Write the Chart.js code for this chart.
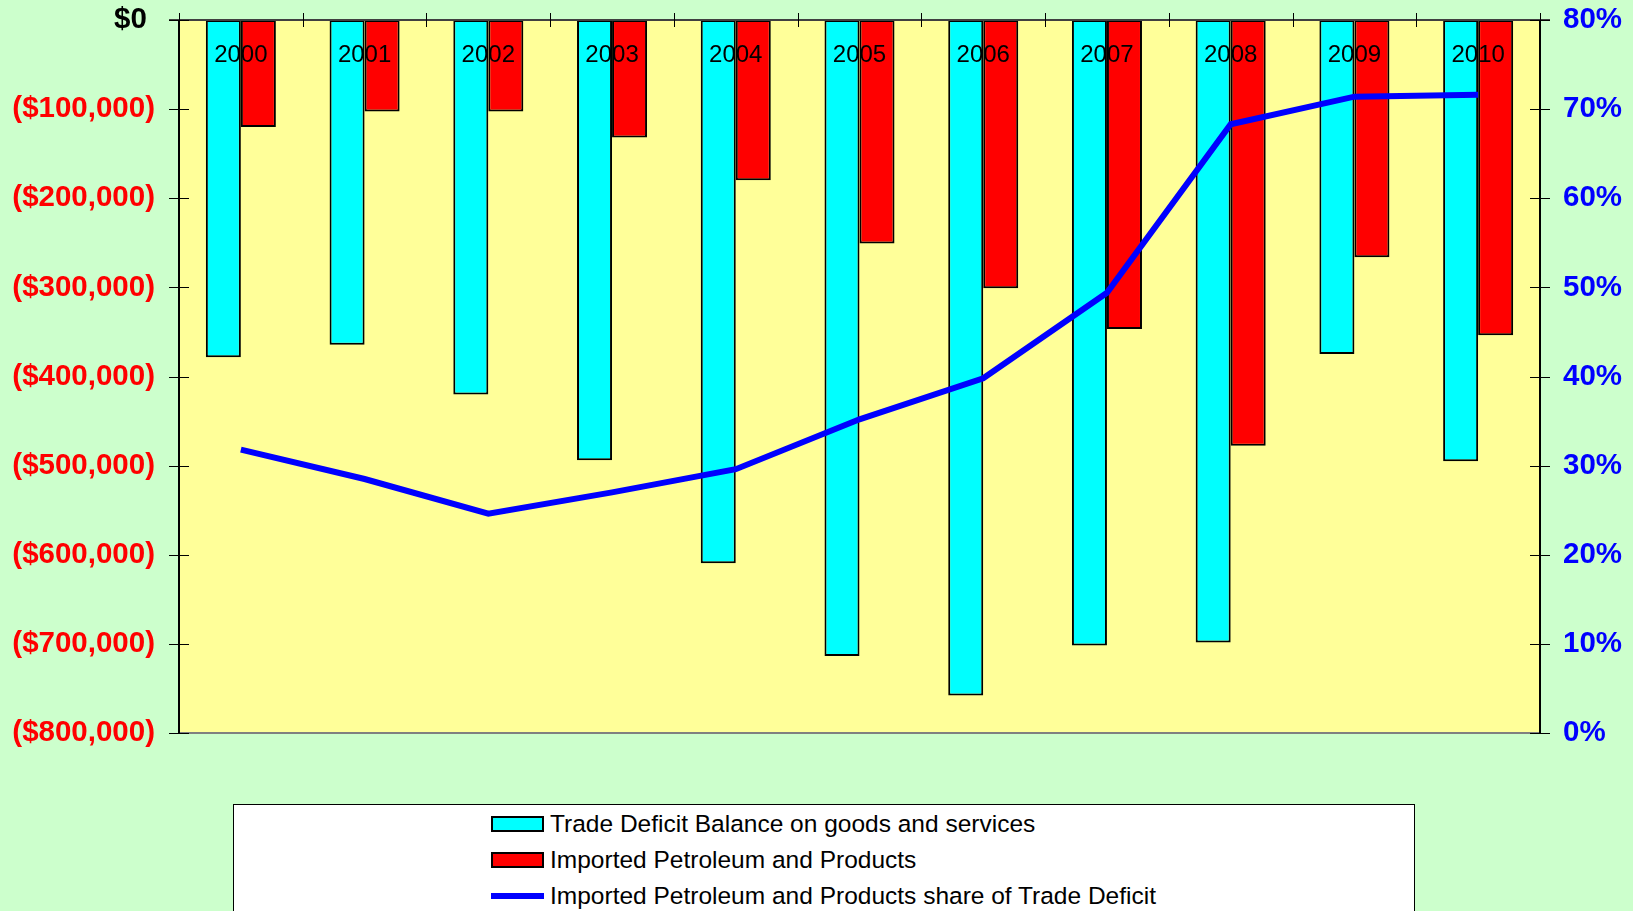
<!DOCTYPE html>
<html>
<head>
<meta charset="utf-8">
<script src="https://cdn.jsdelivr.net/npm/chart.js@4/dist/chart.umd.min.js"></script>
<style>
  html, body { margin: 0; padding: 0; background: #CCFFCC; overflow: hidden; }
  #wrap { position: relative; width: 1633px; height: 911px; }
  #c { position: absolute; left: 0; top: 0; }
  #legend { position: absolute; left: 233px; top: 804px; width: 1182px; height: 140px;
            background: #FFFFFF; border: 1px solid #000; box-sizing: border-box; }
  .item { position: absolute; left: 257px; height: 30px; display: flex; align-items: center;
          font-family: "Liberation Sans", Arial, sans-serif; font-size: 24.5px; color: #000; white-space: nowrap; }
  .sw { width: 53px; height: 16px; box-sizing: border-box; border: 2px solid #000; margin-right: 6px; }
  .swl { width: 53px; height: 6px; margin-right: 6px; }
</style>
</head>
<body>
<div id="wrap">
  <canvas id="c" width="1633" height="911"></canvas>
  <div id="legend"></div>
</div>
<script>
const years = ['2000','2001','2002','2003','2004','2005','2006','2007','2008','2009','2010'];
const tradeDeficit = [-378300, -364300, -420300, -494000, -609600, -713600, -758000, -701900, -698400, -374700, -495000];
const petroleum = [-120100, -102600, -102600, -131800, -179700, -250900, -301100, -346700, -477600, -266100, -353700];
const petroShare = [31.8, 28.5, 24.6, 27.0, 29.6, 35.2, 39.8, 49.4, 68.3, 71.4, 71.6];
const seriesNames = ['Trade Deficit Balance on goods and services', 'Imported Petroleum and Products', 'Imported Petroleum and Products share of Trade Deficit'];

const FONT = '"Liberation Sans", Arial, sans-serif';

const framePlugin = {
  id: 'frame',
  beforeDraw(chart) {
    const {ctx, chartArea: a} = chart;
    ctx.save();
    ctx.fillStyle = '#CCFFCC';
    ctx.fillRect(0, 0, chart.width, chart.height);
    ctx.fillStyle = '#FFFF99';
    ctx.fillRect(a.left, a.top, a.right - a.left, a.bottom - a.top);
    ctx.restore();
  },
  afterDatasetsDraw(chart) {
    const {ctx, chartArea: a, scales} = chart;
    ctx.save();
    ctx.lineWidth = 2;
    ctx.strokeStyle = '#808080';
    ctx.beginPath(); ctx.moveTo(a.left, a.bottom); ctx.lineTo(a.right, a.bottom); ctx.stroke();
    ctx.strokeStyle = '#404040';
    ctx.beginPath(); ctx.moveTo(a.left - 10, a.top); ctx.lineTo(a.right + 10, a.top); ctx.stroke();
    ctx.strokeStyle = '#000';
    ctx.beginPath(); ctx.moveTo(a.left, a.top); ctx.lineTo(a.left, a.bottom); ctx.stroke();
    ctx.beginPath(); ctx.moveTo(a.right, a.top); ctx.lineTo(a.right, a.bottom); ctx.stroke();
    ctx.lineWidth = 1;
    ctx.strokeStyle = '#000';
    const x = scales.x;
    const n = years.length;
    for (let i = 0; i <= n; i++) {
      const px = Math.round(x.getPixelForValue(i - 0.5)) + 0.5;
      ctx.beginPath(); ctx.moveTo(px, a.top - 7); ctx.lineTo(px, a.top + 7); ctx.stroke();
    }
    scales.y.ticks.forEach(t => {
      const py = Math.round(scales.y.getPixelForValue(t.value)) + 0.5;
      ctx.beginPath(); ctx.moveTo(a.left - 10, py); ctx.lineTo(a.left + 10, py); ctx.stroke();
    });
    scales.y2.ticks.forEach(t => {
      const py = Math.round(scales.y2.getPixelForValue(t.value)) + 0.5;
      ctx.beginPath(); ctx.moveTo(a.right - 10, py); ctx.lineTo(a.right + 10, py); ctx.stroke();
    });
    ctx.fillStyle = '#000';
    ctx.font = '24px ' + FONT;
    ctx.textAlign = 'center';
    ctx.textBaseline = 'middle';
    years.forEach((y, i) => {
      ctx.fillText(y, x.getPixelForValue(i), a.top + 35);
    });
    ctx.restore();
  }
};

const chart = new Chart(document.getElementById('c'), {
  type: 'bar',
  data: {
    labels: years,
    datasets: [
      { label: seriesNames[0], data: tradeDeficit, backgroundColor: '#00FFFF', borderColor: '#000', borderWidth: 2,
        borderSkipped: false, yAxisID: 'y', order: 1, categoryPercentage: 0.566, barPercentage: 1.0 },
      { label: seriesNames[1], data: petroleum, backgroundColor: '#FF0000', borderColor: '#000', borderWidth: 2,
        borderSkipped: false, yAxisID: 'y', order: 1, categoryPercentage: 0.566, barPercentage: 1.0 },
      { type: 'line', label: seriesNames[2], data: petroShare, borderColor: '#0000FF', backgroundColor: '#0000FF',
        borderWidth: 6, pointRadius: 0, tension: 0, yAxisID: 'y2', order: 0, borderCapStyle: 'butt', borderJoinStyle: 'miter' }
    ]
  },
  options: {
    responsive: false,
    animation: false,
    devicePixelRatio: 1,
    layout: { padding: { left: 0, right: 0, top: 0, bottom: 178 } },
    plugins: { legend: { display: false }, tooltip: { enabled: false } },
    scales: {
      x: {
        position: 'top',
        offset: true,
        grid: { display: false, drawTicks: false },
        border: { display: false },
        ticks: { display: false },
        afterFit(s) { s.height = 20; s.paddingLeft = 0; s.paddingRight = 0; }
      },
      y: {
        position: 'left',
        min: -800000, max: 0,
        grid: { display: false, drawTicks: false },
        border: { display: false },
        ticks: {
          stepSize: 100000,
          padding: 24,
          font: { family: FONT, size: 29.5, weight: 'bold' },
          color: (c) => c.tick && c.tick.value === 0 ? '#000000' : '#FF0000',
          callback: (v) => v === 0 ? '$0 ' : '($' + Math.abs(v).toLocaleString('en-US') + ')'
        },
        afterFit(s) { s.width = 179; s.paddingTop = 0; s.paddingBottom = 0; }
      },
      y2: {
        position: 'right',
        min: 0, max: 80,
        grid: { display: false, drawTicks: false },
        border: { display: false },
        ticks: {
          stepSize: 10,
          padding: 23,
          font: { family: FONT, size: 29.5, weight: 'bold' },
          color: '#0000FF',
          callback: (v) => v + '%'
        },
        afterFit(s) { s.width = 93; s.paddingTop = 0; s.paddingBottom = 0; }
      }
    }
  },
  plugins: [framePlugin]
});

const lg = document.getElementById('legend');
chart.data.datasets.forEach((ds, i) => {
  const row = document.createElement('div');
  row.className = 'item';
  row.style.top = (4 + i * 36) + 'px';
  const sw = document.createElement('span');
  if (ds.type === 'line') { sw.className = 'swl'; sw.style.background = ds.borderColor; }
  else { sw.className = 'sw'; sw.style.background = ds.backgroundColor; }
  row.appendChild(sw);
  const tx = document.createElement('span');
  tx.textContent = ds.label;
  row.appendChild(tx);
  lg.appendChild(row);
});
</script>
</body>
</html>
